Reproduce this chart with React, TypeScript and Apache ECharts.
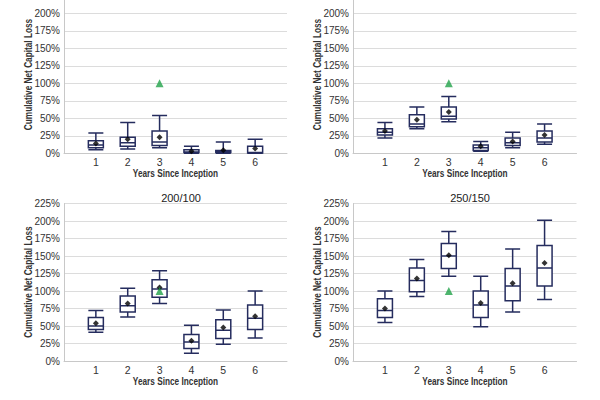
import React, { useEffect, useRef } from "react";
import * as echarts from "echarts";

const categories = ["1", "2", "3", "4", "5", "6"];
const yMaxTop = 200;
const yMaxBottom = 225;
const yStep = 25;

// [min, Q1, median, Q3, max]
const boxesTopLeft = [[5, 8, 12, 18, 29], [6, 10, 15, 23, 44], [8, 11, 16, 32, 54], [0, 1, 2, 5, 10], [0, 1, 2, 4, 16], [0, 0.5, 1, 10, 20]];
const meansTopLeft = [14, 20, 23, 3, 4.5, 7];
const boxesTopRight = [[22, 26, 30, 35, 44], [35, 38, 42, 55, 66], [45, 49, 53, 66, 81], [3, 4, 8, 12, 17], [8, 11, 15, 22, 30], [13, 16, 22, 32, 42]];
const meansTopRight = [32, 48, 59, 10, 17, 26];
const boxesBottomLeft = [[41, 45, 50, 62, 72], [63, 70, 79, 93, 104], [82, 91, 103, 116, 129], [11, 18, 27, 38, 51], [24, 32, 44, 59, 73], [33, 45, 61, 80, 100]];
const meansBottomLeft = [54, 82, 105, 29, 48, 64];
const boxesBottomRight = [[55, 62, 72, 89, 100], [92, 99, 115, 133, 145], [121, 132, 150, 168, 185], [49, 62, 80, 100, 121], [70, 86, 107, 132, 160], [88, 107, 133, 165, 201]];
const meansBottomRight = [75, 118, 151, 83, 111, 140];
const thresholdYear = 3;
const thresholdValue = 100;

const panelTitles = ["", "", "200/100", "250/150"];
const yTitle = "Cumulative Net Capital Loss";
const xTitle = "Years Since Inception";

const NAVY = "#252c5e";
const GRID = "#dcdcdc";
const AXIS = "#c8c8c8";
const TXT = "#333333";
const SANS = "'Liberation Sans', Arial, sans-serif";

export default function App() {
  const ref = useRef<HTMLDivElement>(null);
  useEffect(() => {
    document.body.style.margin = "0";
    const chart = echarts.init(ref.current!, null, { renderer: "svg" });
    const panels = [
      { boxes: boxesTopLeft, means: meansTopLeft, max: yMaxTop },
      { boxes: boxesTopRight, means: meansTopRight, max: yMaxTop },
      { boxes: boxesBottomLeft, means: meansBottomLeft, max: yMaxBottom },
      { boxes: boxesBottomRight, means: meansBottomRight, max: yMaxBottom },
    ];
    const grids = [
      { left: 64, top: 13.3, width: 223, height: 140 },
      { left: 353, top: 13.3, width: 223.5, height: 140 },
      { left: 64, top: 203.5, width: 223, height: 157.5 },
      { left: 353, top: 203.5, width: 223.5, height: 157.5 },
    ];
    const xAxis = grids.map((_, i) => ({
      type: "value",
      gridIndex: i,
      min: 0,
      max: 7,
      interval: 1,
      axisLine: { show: true, lineStyle: { color: AXIS, width: 1 } },
      axisTick: { show: false },
      splitLine: { show: false },
      axisLabel: {
        margin: 3,
        fontFamily: SANS,
        fontSize: 10.5,
        color: TXT,
        formatter: (v: number) => (v >= 1 && v <= categories.length ? categories[v - 1] : ""),
      },
    }));
    const yAxis = grids.map((_, i) => ({
      type: "value",
      gridIndex: i,
      min: 0,
      max: panels[i].max,
      interval: yStep,
      axisLine: { show: true, lineStyle: { color: AXIS, width: 1 } },
      axisTick: { show: false },
      splitLine: { show: true, lineStyle: { color: GRID, width: 1 } },
      axisLabel: { margin: 4, fontFamily: SANS, fontSize: 10, color: TXT, formatter: "{value}%" },
    }));
    const series: any[] = [];
    panels.forEach((p, i) => {
      series.push({
        type: "boxplot",
        xAxisIndex: i,
        yAxisIndex: i,
        boxWidth: [15, 15],
        itemStyle: { color: "#ffffff", borderColor: NAVY, borderWidth: 1.5 },
        data: p.boxes.map((b, k) => [k + 1, ...b]),
        z: 2,
      });
      series.push({
        type: "scatter",
        xAxisIndex: i,
        yAxisIndex: i,
        symbol: "diamond",
        symbolSize: 6,
        itemStyle: { color: "#000000" },
        data: p.means.map((m, k) => [k + 1, m]),
        z: 3,
      });
      series.push({
        type: "scatter",
        xAxisIndex: i,
        yAxisIndex: i,
        symbol: "triangle",
        symbolSize: 8,
        itemStyle: { color: "#22a34a" },
        data: [[thresholdYear, thresholdValue]],
        z: 4,
      });
    });
    const title = [
      { text: panelTitles[2], left: 176, top: 187, textAlign: "center", textStyle: { fontFamily: SANS, fontSize: 11, fontWeight: "normal", color: "#222" } },
      { text: panelTitles[3], left: 465, top: 187, textAlign: "center", textStyle: { fontFamily: SANS, fontSize: 11, fontWeight: "normal", color: "#222" } },
    ];
    // axis titles in the reference use a condensed bold face: draw them as graphic texts squeezed horizontally
    const squeeze = 0.75;
    const titleStyle = (text: string) => ({ text, fontFamily: SANS, fontSize: 11, fontWeight: "bold", fill: TXT, align: "center", verticalAlign: "middle" });
    const xTitlePos = [[175.5, 173], [465, 173], [175.5, 381.5], [465, 381.5]];
    // top panels are cropped at the top edge: y titles are centred on the full (uncropped) axis height
    const yTitlePos = [[28.5, 74.5], [317.5, 74.5], [28.5, 282], [317.5, 282]];
    const graphic: any[] = [
      { type: "line", shape: { x1: 64.5, y1: 0, x2: 64.5, y2: 13.3 }, style: { stroke: AXIS, lineWidth: 1 }, silent: true },
      { type: "line", shape: { x1: 353.5, y1: 0, x2: 353.5, y2: 13.3 }, style: { stroke: AXIS, lineWidth: 1 }, silent: true },
    ];
    xTitlePos.forEach(([x, y]) => graphic.push({ type: "text", x, y, scaleX: squeeze, style: titleStyle(xTitle), silent: true }));
    yTitlePos.forEach(([x, y]) => graphic.push({ type: "text", x, y, rotation: Math.PI / 2, scaleX: squeeze, style: titleStyle(yTitle), silent: true }));
    chart.setOption({ animation: false, backgroundColor: "#ffffff", title, grid: grids, xAxis, yAxis, series, graphic });
    return () => chart.dispose();
  }, []);
  return <div ref={ref} style={{ position: "fixed", left: 0, top: 0, width: 600, height: 400 }} />;
}
